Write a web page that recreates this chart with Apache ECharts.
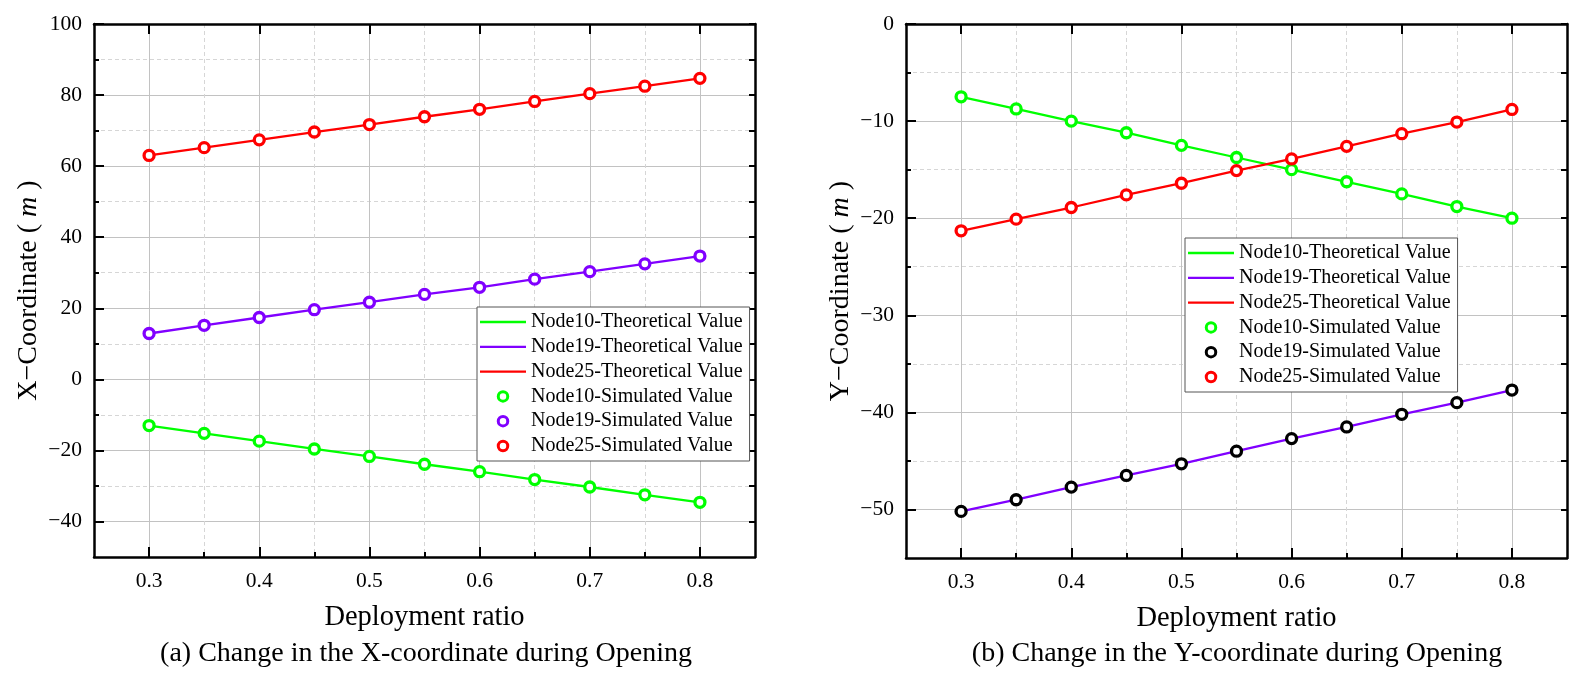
<!DOCTYPE html>
<html>
<head>
<meta charset="utf-8">
<script src="https://cdn.jsdelivr.net/npm/echarts@6/dist/echarts.min.js"></script>
<style>
  html, body { margin: 0; padding: 0; background: #fff; }
  #chart { width: 1583px; height: 684px; }
</style>
</head>
<body>
<div id="chart"></div>
<script>
// deployment ratio (shared x values)
const ratios = [0.3, 0.35, 0.4, 0.45, 0.5, 0.55, 0.6, 0.65, 0.7, 0.75, 0.8];

// (a) X-coordinate, m
const xNode10 = [-13.0, -15.2, -17.4, -19.6, -21.7, -23.9, -26.0, -28.2, -30.3, -32.5, -34.6];
const xNode19 = [12.9, 15.2, 17.4, 19.6, 21.7, 23.9, 25.9, 28.2, 30.3, 32.5, 34.7];
const xNode25 = [63.0, 65.2, 67.4, 69.6, 71.7, 73.9, 76.0, 78.2, 80.4, 82.5, 84.7];

// (b) Y-coordinate, m
const yNode10 = [-7.5, -8.75, -10.0, -11.2, -12.5, -13.75, -15.0, -16.25, -17.5, -18.8, -20.0];
const yNode19 = [-50.2, -49.0, -47.7, -46.5, -45.3, -44.0, -42.7, -41.5, -40.2, -39.0, -37.7];
const yNode25 = [-21.3, -20.1, -18.9, -17.6, -16.4, -15.1, -13.9, -12.6, -11.3, -10.1, -8.8];

// tick labels
const xMajorTicks = [0.3, 0.4, 0.5, 0.6, 0.7, 0.8];
const xMinorTicks = [0.35, 0.45, 0.55, 0.65, 0.75];
const aMajorTicks = [-40, -20, 0, 20, 40, 60, 80, 100];
const aMinorTicks = [-30, -10, 10, 30, 50, 70, 90];
const bMajorTicks = [-50, -40, -30, -20, -10, 0];
const bMinorTicks = [-45, -35, -25, -15, -5];

const names = ['Node10-Theoretical Value', 'Node19-Theoretical Value', 'Node25-Theoretical Value',
  'Node10-Simulated Value', 'Node19-Simulated Value', 'Node25-Simulated Value'];

const GREEN = '#00ff00', PURPLE = '#8000ff', RED = '#ff0000', BLACK = '#000000';
const FONT = "'Liberation Serif', 'Times New Roman', serif";
const LINE_ICON = 'path://M0,0H46V2.3H0Z';

function minus(v) {
  return String(v).replace('-', '\u2212');
}

function xAxes(g) {
  const base = { gridIndex: g, type: 'value', min: 0.25, max: 0.85 };
  return [
    Object.assign({}, base, {
      position: 'bottom',
      name: 'Deployment ratio',
      nameLocation: 'middle',
      nameGap: 46,
      nameTextStyle: { fontFamily: FONT, fontSize: 28.5, color: '#000' },
      axisLine: { show: true, onZero: false, lineStyle: { color: '#000', width: 2.5 } },
      axisTick: { show: true, inside: true, length: 10, customValues: xMajorTicks, lineStyle: { color: '#000', width: 2 } },
      axisLabel: { customValues: xMajorTicks, margin: 13, fontFamily: FONT, fontSize: 21.5, color: '#000' },
      splitLine: { show: true, lineStyle: { color: '#c2c2c2', width: 1 } }
    }),
    Object.assign({}, base, {
      position: 'bottom',
      axisLine: { show: false, onZero: false },
      axisTick: { show: true, inside: true, length: 5, customValues: xMinorTicks, lineStyle: { color: '#000', width: 2 } },
      axisLabel: { show: false },
      splitLine: { show: true, lineStyle: { color: '#d6d6d6', width: 1, type: [4, 3] } }
    }),
    Object.assign({}, base, {
      position: 'top',
      axisLine: { show: true, onZero: false, lineStyle: { color: '#000', width: 2.5 } },
      axisTick: { show: true, inside: true, length: 10, customValues: xMajorTicks, lineStyle: { color: '#000', width: 2 } },
      axisLabel: { show: false },
      splitLine: { show: false }
    })
  ];
}

function yAxes(g, min, max, major, minor, title) {
  const base = { gridIndex: g, type: 'value', min: min, max: max };
  return [
    Object.assign({}, base, {
      position: 'left',
      name: title,
      nameLocation: 'middle',
      nameRotate: 90,
      nameGap: 51,
      nameTextStyle: {
        fontFamily: FONT, fontSize: 28, color: '#000',
        rich: { i: { fontFamily: FONT, fontSize: 28, fontStyle: 'italic', color: '#000' } }
      },
      axisLine: { show: true, onZero: false, lineStyle: { color: '#000', width: 2.5 } },
      axisTick: { show: true, inside: true, length: 10, customValues: major, lineStyle: { color: '#000', width: 2 } },
      axisLabel: { customValues: major, margin: 12, fontFamily: FONT, fontSize: 21.5, color: '#000', formatter: minus },
      splitLine: { show: true, lineStyle: { color: '#c2c2c2', width: 1 } }
    }),
    Object.assign({}, base, {
      position: 'left',
      axisLine: { show: false, onZero: false },
      axisTick: { show: true, inside: true, length: 5, customValues: minor, lineStyle: { color: '#000', width: 2 } },
      axisLabel: { show: false },
      splitLine: { show: true, lineStyle: { color: '#d6d6d6', width: 1, type: [4, 3] } }
    }),
    Object.assign({}, base, {
      position: 'right',
      axisLine: { show: true, onZero: false, lineStyle: { color: '#000', width: 2.5 } },
      axisTick: { show: true, inside: true, length: 6, customValues: major.concat(minor), lineStyle: { color: '#000', width: 2 } },
      axisLabel: { show: false },
      splitLine: { show: false }
    })
  ];
}

function pairs(vals) {
  return ratios.map((r, i) => [r, vals[i]]);
}

function lineSeries(g, name, vals, color) {
  return {
    name: name, type: 'line', xAxisIndex: g * 3, yAxisIndex: g * 3,
    data: pairs(vals), symbol: 'none', z: 2, silent: true,
    lineStyle: { color: color, width: 2.3 }, itemStyle: { color: color }
  };
}

function dotSeries(g, name, vals, color) {
  return {
    name: name, type: 'scatter', xAxisIndex: g * 3, yAxisIndex: g * 3,
    data: pairs(vals), symbol: 'circle', symbolSize: 10, z: 3, silent: true,
    itemStyle: { color: '#fff', borderColor: color, borderWidth: 3.3, opacity: 1 }
  };
}

function legend(left, top, lineColors, dotColors) {
  return {
    orient: 'vertical', left: left, top: top,
    backgroundColor: '#fff', borderColor: '#555', borderWidth: 1, borderRadius: 0,
    padding: [5, 7, 5, 3], itemGap: 4.8, itemWidth: 46, itemHeight: 9.5,
    selectedMode: false,
    textStyle: { fontFamily: FONT, fontSize: 20, color: '#000' },
    data: names.map((n, i) => i < 3
      ? { name: n, icon: LINE_ICON, itemStyle: { color: lineColors[i] } }
      : { name: n, itemStyle: { color: '#fff', borderColor: dotColors[i - 3], borderWidth: 3 } })
  };
}

const chart = echarts.init(document.getElementById('chart'), null, { renderer: 'canvas' });

chart.setOption({
  backgroundColor: '#fff',
  animation: false,
  grid: [
    { left: 94, top: 24, width: 661, height: 533, outerBoundsMode: 'none' },
    { left: 906, top: 24, width: 661, height: 534, outerBoundsMode: 'none' }
  ],
  xAxis: xAxes(0).concat(xAxes(1)),
  yAxis: yAxes(0, -50, 100, aMajorTicks, aMinorTicks, 'X\u2212Coordinate ( {i|m} )')
    .concat(yAxes(1, -55, 0, bMajorTicks, bMinorTicks, 'Y\u2212Coordinate ( {i|m} )')),
  legend: [
    legend(477, 307, [GREEN, PURPLE, RED], [GREEN, PURPLE, RED]),
    legend(1185, 238, [GREEN, PURPLE, RED], [GREEN, BLACK, RED])
  ],
  series: [
    lineSeries(0, names[0], xNode10, GREEN),
    lineSeries(0, names[1], xNode19, PURPLE),
    lineSeries(0, names[2], xNode25, RED),
    dotSeries(0, names[3], xNode10, GREEN),
    dotSeries(0, names[4], xNode19, PURPLE),
    dotSeries(0, names[5], xNode25, RED),
    lineSeries(1, names[0], yNode10, GREEN),
    lineSeries(1, names[1], yNode19, PURPLE),
    lineSeries(1, names[2], yNode25, RED),
    dotSeries(1, names[3], yNode10, GREEN),
    dotSeries(1, names[4], yNode19, BLACK),
    dotSeries(1, names[5], yNode25, RED)
  ],
  graphic: [
    {
      type: 'text', x: 426, y: 654,
      style: { text: '(a) Change in the X-coordinate during Opening', fontFamily: FONT, fontSize: 28, fill: '#000', textAlign: 'center', textVerticalAlign: 'middle' }
    },
    {
      type: 'text', x: 1237, y: 654,
      style: { text: '(b) Change in the Y-coordinate during Opening', fontFamily: FONT, fontSize: 28, fill: '#000', textAlign: 'center', textVerticalAlign: 'middle' }
    }
  ]
});
</script>
</body>
</html>
